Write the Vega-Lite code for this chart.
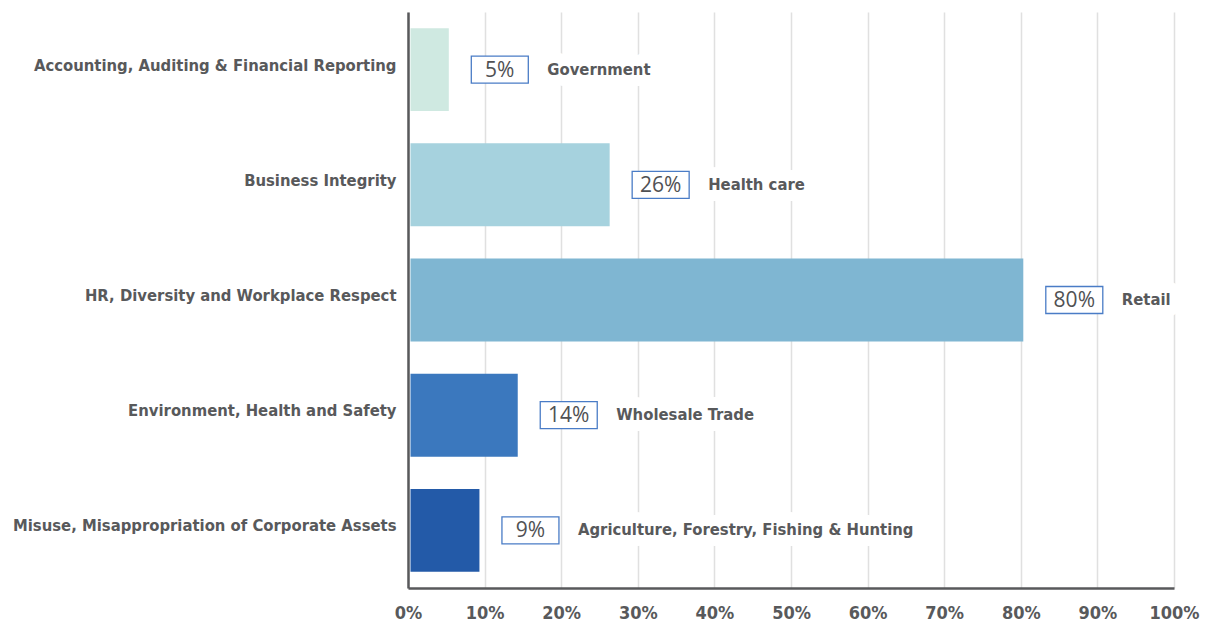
{
  "$schema": "https://vega.github.io/schema/vega-lite/v6.json",
  "width": 766,
  "height": 576,
  "autosize": {"type": "none"},
  "padding": {"left": 408, "top": 12, "right": 31, "bottom": 40},
  "background": "white",
  "config": {"view": {"stroke": null}},
  "data": {
    "values": [
      {"category": "Accounting, Auditing & Financial Reporting", "value": 0.05, "industry": "Government"},
      {"category": "Business Integrity", "value": 0.26, "industry": "Health care"},
      {"category": "HR, Diversity and Workplace Respect", "value": 0.80, "industry": "Retail"},
      {"category": "Environment, Health and Safety", "value": 0.14, "industry": "Wholesale Trade"},
      {"category": "Misuse, Misappropriation of Corporate Assets", "value": 0.09, "industry": "Agriculture, Forestry, Fishing & Hunting"}
    ]
  },
  "encoding": {
    "y": {
      "field": "category",
      "type": "nominal",
      "sort": null,
      "scale": {"paddingInner": 0.28, "paddingOuter": 0.14},
      "axis": {
        "title": null,
        "ticks": false,
        "grid": false,
        "domainColor": "#58595b",
        "domainWidth": 2.5,
        "labelFont": "DejaVu Sans Condensed",
        "labelFontWeight": "bold",
        "labelFontSize": 16.5,
        "labelColor": "#58595b",
        "labelPadding": 12,
        "labelLimit": 420,
        "labelOffset": -4
      }
    },
    "x": {
      "field": "value",
      "type": "quantitative",
      "scale": {"domain": [0, 1], "nice": false},
      "axis": {
        "title": null,
        "format": ".0%",
        "values": [0, 0.1, 0.2, 0.3, 0.4, 0.5, 0.6, 0.7, 0.8, 0.9, 1],
        "labelOverlap": false,
        "ticks": false,
        "grid": true,
        "gridColor": "#e0e0e0",
        "gridWidth": 1.5,
        "domainColor": "#58595b",
        "domainWidth": 2.5,
        "labelFont": "DejaVu Sans Condensed",
        "labelFontWeight": "bold",
        "labelFontSize": 18,
        "labelColor": "#58595b",
        "labelPadding": 16,
        "labelFlush": false
      }
    }
  },
  "layer": [
    {
      "mark": {"type": "bar", "xOffset": 2.5, "x2Offset": 2.5},
      "encoding": {
        "color": {
          "field": "category",
          "type": "nominal",
          "sort": null,
          "scale": {"range": ["#cfe9e1", "#a6d2de", "#7fb6d2", "#3b78be", "#235aa8"]},
          "legend": null
        }
      }
    },
    {
      "mark": {"type": "bar", "height": 27, "xOffset": 25, "x2Offset": 82, "fill": "white", "stroke": "#4a7cc6", "strokeWidth": 1.3},
      "encoding": {"x2": {"field": "value"}}
    },
    {
      "mark": {"type": "text", "align": "center", "baseline": "middle", "xOffset": 53.5, "dy": 1, "font": "Open Sans", "fontSize": 21, "color": "#505153"},
      "encoding": {"text": {"field": "value", "type": "quantitative", "format": ".0%"}}
    },
    {
      "mark": {"type": "text", "align": "left", "baseline": "middle", "xOffset": 101, "font": "DejaVu Sans Condensed", "fontWeight": "bold", "fontSize": 16.5, "fill": "white", "stroke": "white", "strokeWidth": 22, "strokeJoin": "round"},
      "encoding": {"text": {"field": "industry"}}
    },
    {
      "mark": {"type": "text", "align": "left", "baseline": "middle", "xOffset": 101, "font": "DejaVu Sans Condensed", "fontWeight": "bold", "fontSize": 16.5, "color": "#58595b"},
      "encoding": {"text": {"field": "industry"}}
    }
  ]
}
